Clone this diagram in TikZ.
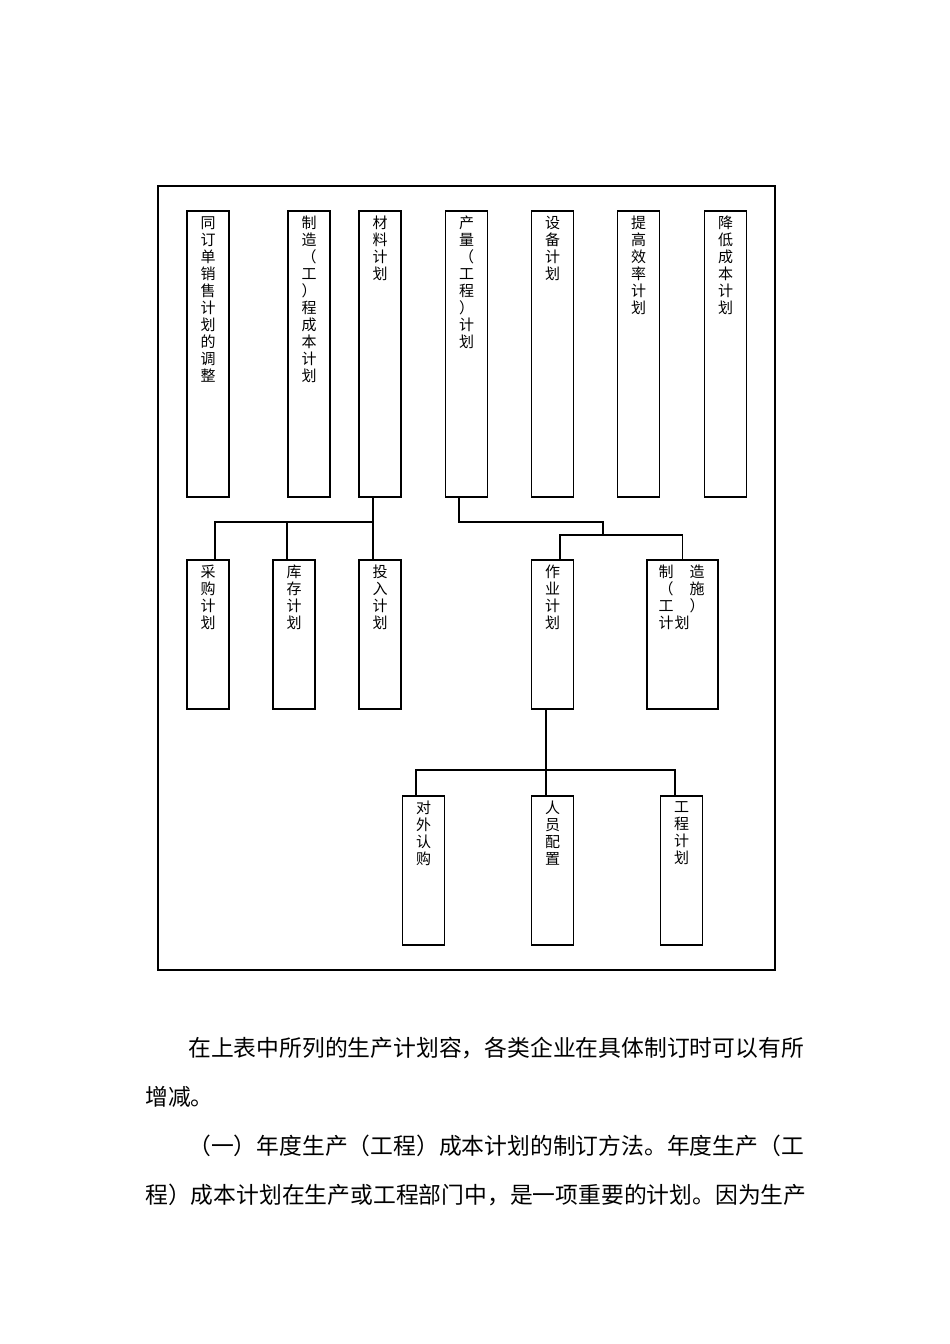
\documentclass[tikz,border=0pt]{standalone}
\usepackage{fontspec}
\setmainfont{Noto Sans CJK SC}
\begin{document}
\begin{tikzpicture}[x=1pt,y=-1pt,
  bx/.style={draw,line width=1.2pt,inner sep=0pt,minimum width=#1},
  bx/.default=42pt,
  vt/.style={anchor=north,align=center,font=\fontsize{15}{17}\selectfont,inner sep=0pt},
  para/.style={anchor=west,inner sep=0pt,font=\fontsize{22.8}{26}\selectfont},
  ln/.style={line width=1.2pt}]
\useasboundingbox (0,0) rectangle (950,1344);
\draw[line width=1.2pt] (158,186) rectangle (775,970);
% top row
\foreach \n/\x in {A/208,B/309,C/380,D/466.5,E/552.5,F/638.5,G/725.5}
  \node[bx,minimum height=286pt] (\n) at (\x,354) {};
\node[vt] (tA) at (208,216) {同\\订\\单\\销\\售\\计\\划\\的\\调\\整};
\node[vt] (tB) at (309,216) {制\\造\\（\\工\\）\\程\\成\\本\\计\\划};
\node[vt] (tC) at (380,216) {材\\料\\计\\划};
\node[vt] (tD) at (466.5,216) {产\\量\\（\\工\\程\\）\\计\\划};
\node[vt] (tE) at (552.5,216) {设\\备\\计\\划};
\node[vt] (tF) at (638.5,216) {提\\高\\效\\率\\计\\划};
\node[vt] (tG) at (725.5,216) {降\\低\\成\\本\\计\\划};
% second row
\foreach \n/\x in {H/208,I/294,J/380,K/552.5}
  \node[bx,minimum height=149pt] (\n) at (\x,634.5) {};
\node[bx=71pt,minimum height=149pt] (L) at (682.5,634.5) {};
\node[vt] (tH) at (208,565) {采\\购\\计\\划};
\node[vt] (tI) at (294,565) {库\\存\\计\\划};
\node[vt] (tJ) at (380,565) {投\\入\\计\\划};
\node[vt] (tK) at (552.5,565) {作\\业\\计\\划};
\node[vt] (tL1) at (666,565) {制\\（\\工\\计};
\node[vt] (tL2) at (697,565) {造\\施\\）};
\node[vt] (tL3) at (682,616) {划};
% third row
\foreach \n/\x in {M/423.5,N/552.5,O/681.5}
  \node[bx,minimum height=149pt] (\n) at (\x,870.5) {};
\node[vt] (tM) at (423.5,801) {对\\外\\认\\购};
\node[vt] (tN) at (552.5,801) {人\\员\\配\\置};
\node[vt] (tO) at (681.5,801) {工\\程\\计\\划};
% connectors
\coordinate (c1) at (373,522);
\draw[ln] (C.south -| c1) -- (c1);
\draw[ln] (215,560) |- (c1);
\draw[ln] (287,560) -- (287,522);
\draw[ln] (c1) -- (J.north -| c1);
\coordinate (c2) at (603,522);
\coordinate (c3) at (603,535);
\draw[ln] (459,497) |- (c2) -- (c3);
\draw[ln] (560,560) |- (c3);
\draw[ln] (c3) -| (L.north);
\coordinate (c4) at (546,770);
\draw[ln] (K.south -| c4) -- (N.north -| c4);
\draw[ln] (416,796) |- (c4) -| (675,796);
% paragraphs
\node[para] (p1) at (188,1048) {在上表中所列的生产计划容，各类企业在具体制订时可以有所};
\node[para] (p2) at (145,1097) {增减。};
\node[para] (p3) at (188,1146) {（一）年度生产（工程）成本计划的制订方法。年度生产（工};
\node[para] (p4) at (145,1195) {程）成本计划在生产或工程部门中，是一项重要的计划。因为生产};
\end{tikzpicture}
\end{document}
